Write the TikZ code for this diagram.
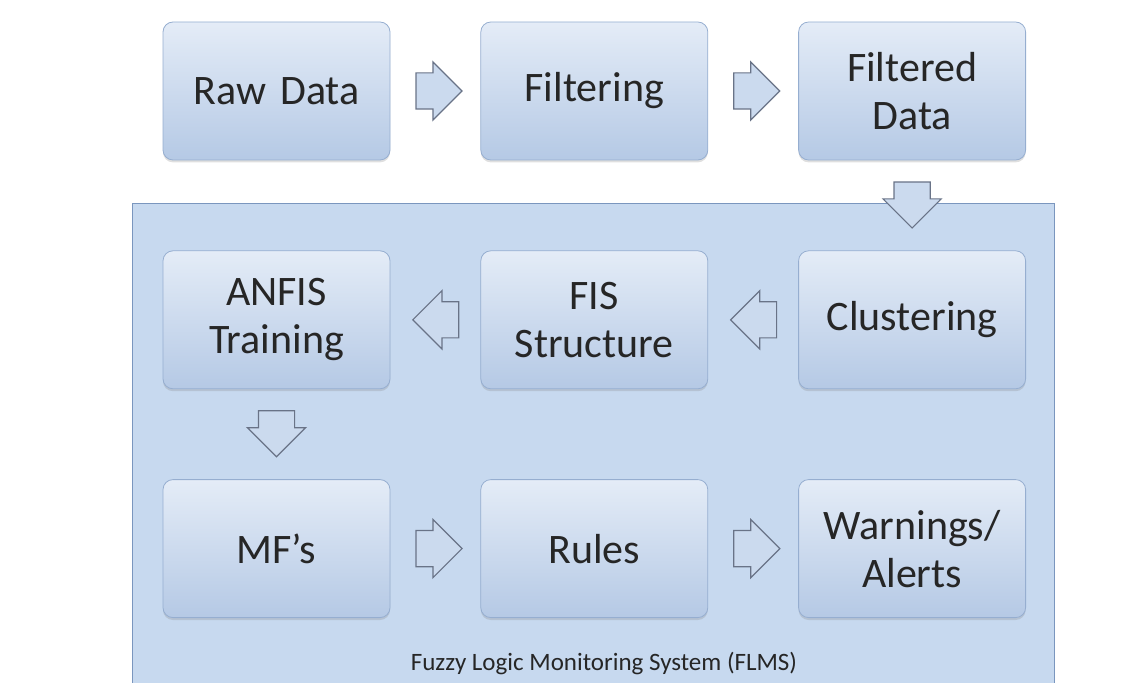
\documentclass[tikz,border=0pt]{standalone}
\usepackage{fontspec}
\setmainfont{Carlito}
\usepackage{tikz}
\usetikzlibrary{shapes,arrows,positioning,calc,shadows}
\definecolor{boxtop}{RGB}{228,236,247}
\definecolor{boxbot}{RGB}{181,201,229}
\definecolor{boxline}{RGB}{150,174,208}
\definecolor{panelfill}{RGB}{199,217,239}
\definecolor{panelline}{RGB}{122,150,190}
\definecolor{arrfill}{RGB}{203,218,238}
\definecolor{arrline}{RGB}{105,115,135}
\tikzstyle{block} = [rectangle, draw=boxline, top color=boxtop, bottom color=boxbot, rounded corners=5pt, inner sep=3pt, text width=105pt, align=center, minimum width=113.5pt, minimum height=69pt, text=black!85, font=\fontsize{21}{24}\selectfont, drop shadow={opacity=0.25, shadow xshift=0pt, shadow yshift=-1.2pt}]
\tikzstyle{fatarrow} = [single arrow, draw=arrline, fill=arrfill, line width=0.6pt, inner xsep=0pt, inner ysep=8.75pt, single arrow head extend=5.5pt, single arrow tip angle=90, minimum height=23pt, anchor=tail]
\tikzstyle{panel} = [rectangle, draw=panelline, fill=panelfill, line width=0.7pt, anchor=north west]

\begin{document}
\begin{tikzpicture}[auto, node distance=45pt and 45pt, >=stealth']
    \useasboundingbox (0,0) rectangle (569pt,-341.5pt);
    \node[panel, minimum width=461pt, minimum height=241pt] (flms) at (66pt,-101.5pt) {};

    \node[block] (raw) at (138.25pt,-45.5pt) {Raw Data};
    \node[block, right=of raw] (filter) {Filtering};
    \node[block, right=of filter] (filtered) {Filtered\\Data};
    \node[block, below=of filtered] (cluster) {Clustering};
    \node[block, left=of cluster] (fis) {FIS\\Structure};
    \node[block, left=of fis] (anfis) {ANFIS\\Training};
    \node[block, below=of anfis] (mf) {MF’s};
    \node[block, right=of mf] (rules) {Rules};
    \node[block, right=of rules] (warn) {Warnings/\\Alerts};
    \node[font=\fontsize{12.5}{15}\selectfont, text=black!85] (label) at (302pt,-332pt) {Fuzzy Logic Monitoring System (FLMS)};

    % block arrows between the steps (tail half a length before the gap's middle)
    \node[fatarrow] (a1) at ($(raw.east)!0.5!(filter.west)+(-10pt,0)$) {};
    \node[fatarrow] (a2) at ($(filter.east)!0.5!(filtered.west)+(-10pt,0)$) {};
    \node[fatarrow, rotate=-90] (a3) at ($(filtered.south)!0.5!(cluster.north)+(0,12pt)$) {};
    \node[fatarrow, rotate=180] (a4) at ($(cluster.west)!0.5!(fis.east)+(12pt,0)$) {};
    \node[fatarrow, rotate=180] (a5) at ($(fis.west)!0.5!(anfis.east)+(12pt,0)$) {};
    \node[fatarrow, rotate=-90] (a6) at ($(anfis.south)!0.5!(mf.north)+(0,12pt)$) {};
    \node[fatarrow] (a7) at ($(mf.east)!0.5!(rules.west)+(-10pt,0)$) {};
    \node[fatarrow] (a8) at ($(rules.east)!0.5!(warn.west)+(-10pt,0)$) {};
\end{tikzpicture}
\end{document}
